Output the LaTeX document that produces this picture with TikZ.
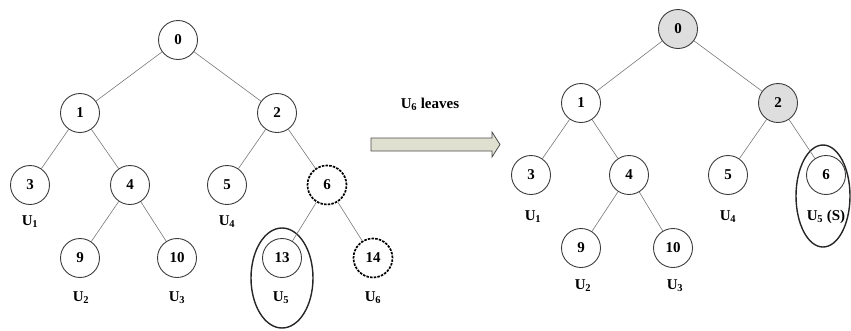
\documentclass[tikz,border=0pt]{standalone}
\usepackage{fontspec}
\setmainfont{Liberation Serif}
\usetikzlibrary{shapes.geometric}
\definecolor{edgecol}{RGB}{120,120,120}
\definecolor{nodecol}{RGB}{60,60,60}
\definecolor{shade}{RGB}{222,222,222}
\definecolor{arrowfill}{RGB}{224,224,208}
\newcommand{\Us}[1]{U\textsubscript{\kern-0.5pt#1}}
\begin{document}
\begin{tikzpicture}[x=1pt,y=-1pt,
  tn/.style={circle,draw=nodecol,line width=0.9pt,minimum size=39pt,inner sep=0pt,font=\fontsize{15}{15}\selectfont\bfseries},
  dn/.style={tn,draw=black,line width=1.7pt,dash pattern=on 2.5pt off 1.2pt},
  gn/.style={tn,fill=shade},
  lab/.style={font=\fontsize{15}{15}\selectfont\bfseries,inner sep=0pt},
  ed/.style={draw=edgecol,line width=0.6pt},
  ring/.style={ellipse,draw=black!85,line width=1.4pt,inner sep=0pt}]
\useasboundingbox (0,0) rectangle (851,330);
% left tree
\node[tn] (a0) at (178,40) {0};
\node[tn] (a1) at (80,113) {1};
\node[tn] (a2) at (277,113) {2};
\node[tn] (a3) at (30,185) {3};
\node[tn] (a4) at (130,185) {4};
\node[tn] (a5) at (227,185) {5};
\node[dn] (a6) at (327,185) {6};
\node[tn] (a9) at (80,258) {9};
\node[tn] (a10) at (177,258) {10};
\node[tn] (a13) at (282,258) {13};
\node[dn] (a14) at (373,258) {14};
\node[lab] (la3) at (30,222) {\Us{1}};
\node[lab] (la5) at (227,222) {\Us{4}};
\node[lab] (la9) at (81,298) {\Us{2}};
\node[lab] (la10) at (177,298) {\Us{3}};
\node[lab] (la13) at (281,298) {\Us{5}};
\node[lab] (la14) at (373,298) {\Us{6}};
\node[ring,minimum width=62pt,minimum height=100pt] (ea) at (282,278) {};
\draw[ed] (a0)--(a1) (a0)--(a2) (a1)--(a3) (a1)--(a4) (a2)--(a5) (a2)--(a6)
  (a4)--(a9) (a4)--(a10) (a6)--(a13) (a6)--(a14);
% arrow
\node[lab] (txt) at (430,104) {\Us{6} leaves};
\draw[draw=black!70,fill=arrowfill,line width=0.8pt]
  (371,138)--(492,138)--(492,132)--(500,144.5)--(492,157)--(492,151)--(371,151)--cycle;
% right tree
\node[gn] (b0) at (678,29) {0};
\node[tn] (b1) at (581,103) {1};
\node[gn] (b2) at (778,103) {2};
\node[tn] (b3) at (531,175) {3};
\node[tn] (b4) at (629,175) {4};
\node[tn] (b5) at (728,175) {5};
\node[tn] (b6) at (826,175) {6};
\node[tn] (b9) at (581,248) {9};
\node[tn] (b10) at (673,248) {10};
\node[lab] (lb3) at (533,217) {\Us{1}};
\node[lab] (lb5) at (728,217) {\Us{4}};
\node[lab] (lb6) at (826,217) {\Us{5} (S)};
\node[lab] (lb9) at (583,286) {\Us{2}};
\node[lab] (lb10) at (675,286) {\Us{3}};
\node[ring,minimum width=54pt,minimum height=102pt] (eb) at (823,196) {};
\draw[ed] (b0)--(b1) (b0)--(b2) (b1)--(b3) (b1)--(b4) (b2)--(b5) (b2)--(b6)
  (b4)--(b9) (b4)--(b10);
\end{tikzpicture}
\end{document}
